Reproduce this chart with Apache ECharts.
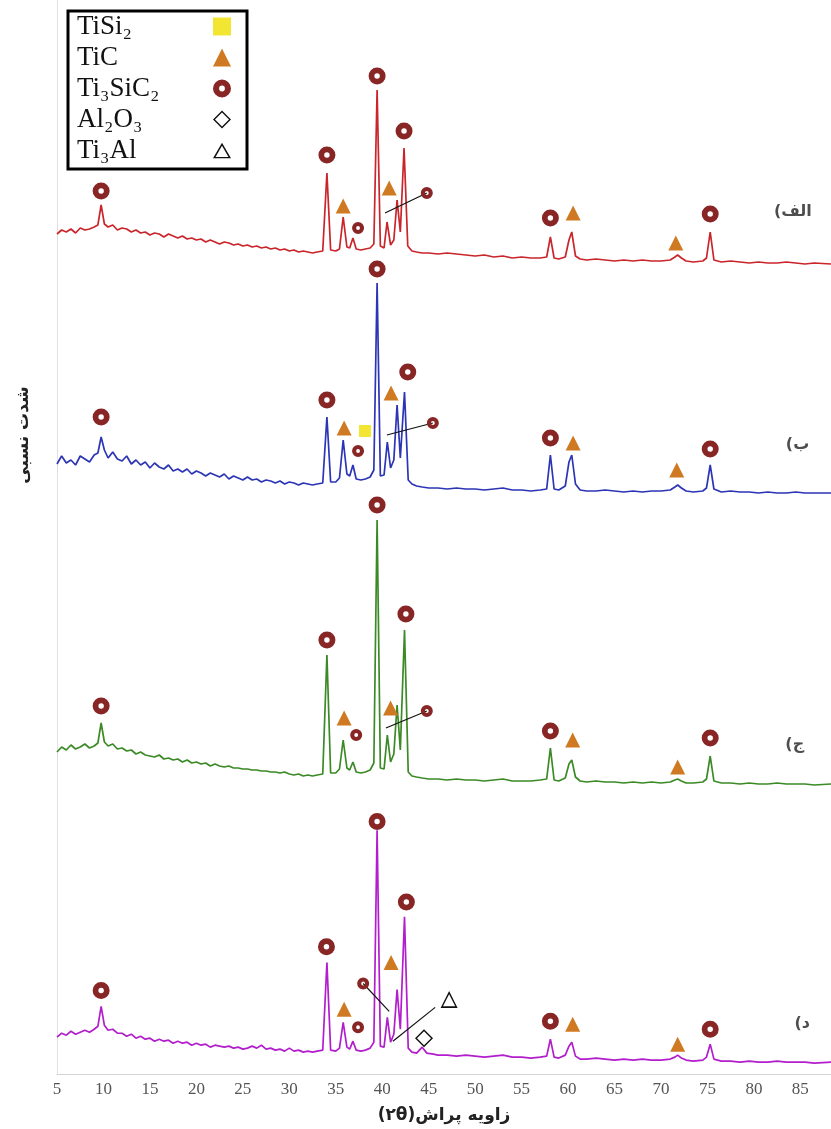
<!DOCTYPE html>
<html><head><meta charset="utf-8">
<script src="https://cdn.jsdelivr.net/npm/echarts@6/dist/echarts.min.js"></script>
<style>html,body{margin:0;padding:0;background:#fff}#c{width:831px;height:1129px}</style>
</head><body><div id="c"></div>
<script>
// ---------- DATA ----------
const xTicks = [5,10,15,20,25,30,35,40,45,50,55,60,65,70,75,80,85];
const traceLabels = ['الف)', 'ب)', 'ج)', 'د)'];
const xTitle = 'زاویه پراش(۲θ)';
const yTitle = 'شدت نسبی';
const phaseNames = ['TiSi₂', 'TiC', 'Ti₃SiC₂', 'Al₂O₃', 'Ti₃Al'];

// intensity traces [2θ, relative intensity]
const traceA = [[5,36],[5.5,40],[6,38],[6.5,41],[7,37],[7.5,42],[8,40],[8.5,41],[9,43],[9.4,45],[9.75,65],[10.1,46],[10.5,43],[11,45],[11.5,40],[12,42],[12.5,41],[13,38],[13.5,40],[14,37],[14.5,38],[15,35],[15.5,37],[16,36],[16.5,33],[17,36],[17.5,34],[18,32],[18.5,34],[19,31],[19.5,32],[20,30],[20.5,31],[21,28],[21.5,30],[22,28],[22.5,26],[23,28],[23.5,27],[24,25],[24.5,26],[25,24],[25.5,25],[26,23],[26.5,24],[27,22],[27.5,23],[28,21],[28.5,22],[29,20],[29.5,21],[30,19],[30.5,20],[31,18],[31.5,19],[32,18],[32.5,17],[33,18],[33.6,19],[34.05,97],[34.45,20],[35,19],[35.4,21],[35.8,53],[36.2,23],[36.5,22],[36.85,32],[37.2,21],[37.7,20],[38.2,21],[38.7,22],[39.1,26],[39.45,180],[39.8,24],[40.2,22],[40.52,48],[40.9,25],[41.25,30],[41.6,70],[41.95,38],[42.35,122],[42.75,24],[43.2,19],[43.7,18],[44.3,17],[45,17],[46,16],[47,17],[48,16],[49,15],[50,14],[51,15],[52,13],[53,14],[54,12],[55,13],[56,12],[57,12],[57.7,13],[58.1,33],[58.5,12],[59,11],[59.7,13],[60.1,30],[60.4,38],[60.8,14],[61.3,11],[62,10],[63,11],[64,10],[65,9],[66,10],[67,9],[68,10],[69,9],[70,9],[71,10],[71.5,13],[71.8,15],[72.2,12],[72.7,9],[73.5,8],[74.5,9],[74.9,12],[75.3,38],[75.7,10],[76.5,8],[77.5,9],[78.5,8],[79.5,7],[80.5,8],[81.5,7],[82.5,7],[83.5,8],[84.5,7],[85.5,6],[86.5,7],[88.3,6]];
const traceB = [[5,36],[5.5,44],[6,37],[6.5,40],[7,35],[7.5,44],[8,41],[8.5,38],[9,45],[9.4,47],[9.75,63],[10.1,50],[10.5,42],[11,48],[11.5,41],[12,39],[12.5,44],[13,36],[13.5,40],[14,35],[14.5,38],[15,32],[15.5,37],[16,33],[16.5,31],[17,35],[17.5,29],[18,31],[18.5,28],[19,31],[19.5,26],[20,29],[20.5,27],[21,24],[21.5,27],[22,25],[22.5,23],[23,26],[23.5,21],[24,24],[24.5,22],[25,20],[25.5,23],[26,20],[26.5,21],[27,18],[27.5,20],[28,19],[28.5,17],[29,19],[29.5,16],[30,18],[30.5,17],[31,15],[31.5,17],[32,16],[32.5,15],[33,16],[33.6,17],[34.05,83],[34.45,18],[35,18],[35.4,22],[35.8,60],[36.2,26],[36.5,24],[36.85,35],[37.2,21],[37.7,20],[38.2,21],[38.7,23],[39.1,30],[39.45,217],[39.8,24],[40.2,25],[40.55,58],[40.9,32],[41.25,40],[41.6,95],[41.95,42],[42.4,108],[42.8,20],[43.2,16],[43.7,14],[44.3,13],[45,12],[46,12],[47,11],[48,12],[49,11],[50,11],[51,10],[52,11],[53,12],[54,10],[55,10],[56,9],[57,10],[57.7,11],[58.1,45],[58.5,11],[59,10],[59.7,14],[60.1,38],[60.4,45],[60.8,16],[61.3,10],[62,9],[63,9],[64,10],[65,9],[66,8],[67,9],[68,8],[69,9],[70,9],[71,10],[71.5,13],[71.8,15],[72.2,12],[72.7,9],[73.5,8],[74.5,9],[74.9,12],[75.3,35],[75.7,11],[76.5,8],[77.5,9],[78.5,8],[79.5,8],[80.5,7],[81.5,8],[82.5,7],[83.5,7],[84.5,8],[85.5,7],[86.5,7],[88.3,7]];
const traceC = [[5,38],[5.5,43],[6,40],[6.5,45],[7,41],[7.5,43],[8,46],[8.5,42],[9,44],[9.4,47],[9.75,67],[10.1,48],[10.5,44],[11,46],[11.5,41],[12,42],[12.5,39],[13,40],[13.5,36],[14,38],[14.5,35],[15,34],[15.5,33],[16,35],[16.5,31],[17,32],[17.5,30],[18,31],[18.5,28],[19,30],[19.5,27],[20,28],[20.5,26],[21,27],[21.5,24],[22,26],[22.5,24],[23,23],[23.5,24],[24,22],[24.5,22],[25,21],[25.5,21],[26,20],[26.5,20],[27,19],[27.5,19],[28,18],[28.5,18],[29,17],[29.5,18],[30,16],[30.5,15],[31,16],[31.5,14],[32,15],[32.5,14],[33,15],[33.6,16],[34.05,135],[34.45,17],[35,17],[35.4,21],[35.8,50],[36.2,22],[36.5,20],[36.85,28],[37.2,18],[37.7,17],[38.2,18],[38.7,20],[39.1,27],[39.45,270],[39.8,22],[40.2,21],[40.55,55],[40.9,28],[41.25,36],[41.6,85],[41.95,40],[42.4,160],[42.8,18],[43.2,14],[43.7,13],[44.3,12],[45,11],[46,11],[47,10],[48,11],[49,10],[50,10],[51,9],[52,10],[53,11],[54,9],[55,9],[56,9],[57,10],[57.7,11],[58.1,42],[58.5,10],[59,9],[59.7,12],[60.1,26],[60.4,30],[60.8,13],[61.3,9],[62,8],[63,9],[64,8],[65,8],[66,7],[67,8],[68,7],[69,8],[70,7],[71,8],[71.5,10],[71.8,11],[72.2,9],[72.7,7],[73.5,7],[74.5,8],[74.9,11],[75.3,34],[75.7,9],[76.5,7],[77.5,7],[78.5,6],[79.5,7],[80.5,6],[81.5,6],[82.5,7],[83.5,6],[84.5,6],[85.5,6],[86.5,5],[88.3,6]];
const traceD = [[5,37],[5.5,41],[6,39],[6.5,43],[7,40],[7.5,42],[8,44],[8.5,42],[9,45],[9.4,48],[9.75,68],[10.1,49],[10.5,44],[11,45],[11.5,41],[12,41],[12.5,38],[13,40],[13.5,36],[14,38],[14.5,35],[15,36],[15.5,33],[16,35],[16.5,33],[17,34],[17.5,31],[18,33],[18.5,31],[19,32],[19.5,29],[20,31],[20.5,29],[21,30],[21.5,27],[22,29],[22.5,28],[23,27],[23.5,28],[24,26],[24.5,27],[25,25],[25.5,26],[26,28],[26.5,26],[27,29],[27.5,25],[28,26],[28.5,24],[29,25],[29.5,23],[30,26],[30.5,23],[31,24],[31.5,22],[32,23],[32.5,22],[33,23],[33.6,24],[34.05,112],[34.45,24],[35,23],[35.4,26],[35.8,52],[36.2,27],[36.5,25],[36.85,33],[37.2,24],[37.7,23],[38.2,24],[38.7,26],[39.1,32],[39.45,245],[39.8,28],[40.2,27],[40.55,57],[40.9,32],[41.25,40],[41.6,85],[41.95,45],[42.4,158],[42.8,26],[43.2,22],[43.7,21],[44.3,27],[44.8,21],[45.5,20],[46,19],[47,19],[48,18],[49,19],[50,18],[51,17],[52,18],[53,19],[54,17],[55,17],[56,16],[57,17],[57.7,18],[58.1,35],[58.5,17],[59,16],[59.7,19],[60.1,28],[60.4,32],[60.8,18],[61.3,15],[62,15],[63,16],[64,15],[65,14],[66,15],[67,14],[68,15],[69,14],[70,14],[71,15],[71.5,17],[71.8,19],[72.2,16],[72.7,14],[73.5,13],[74.5,14],[74.9,17],[75.3,30],[75.7,15],[76.5,13],[77.5,13],[78.5,12],[79.5,13],[80.5,12],[81.5,12],[82.5,13],[83.5,12],[84.5,12],[85.5,12],[86.5,11],[88.3,12]];

// phase marks [2θ, intensity]
const ringsA = [[9.75,79],[34.05,115],[39.45,194],[42.35,139],[58.1,52],[75.3,56]];
const ringsSmallA = [[37.4,42],[44.8,77]];
const ticA = [[35.8,64],[40.75,82],[60.55,57],[71.6,27]];
const leadersA = [[[40.3,57],[44.8,77]]];

const ringsB = [[9.75,83],[34.05,100],[39.45,231],[42.75,128],[58.1,62],[75.3,51]];
const ringsSmallB = [[37.4,49],[45.45,77]];
const ticB = [[35.9,72],[40.95,107],[60.55,57],[71.7,30]];
const tisi2B = [[38.15,69]];
const leadersB = [[[40.5,65],[45.45,77]]];

const ringsC = [[9.75,84],[34.05,150],[39.45,285],[42.55,176],[58.1,59],[75.3,52]];
const ringsSmallC = [[37.2,55],[44.8,79]];
const ticC = [[35.9,72],[40.9,82],[60.5,50],[71.8,23]];
const leadersC = [[[40.4,62],[44.8,79]]];

const ringsD = [[9.75,84],[34.0,128],[39.45,254],[42.6,173],[58.1,53],[75.3,45]];
const ringsSmallD = [[37.4,47],[37.95,91]];
const ticD = [[35.9,65],[40.95,112],[60.5,50],[71.8,30]];
const al2o3D = [[44.5,36]];
const ti3alD = [[47.2,75]];
const leadersD = [[[37.95,91],[40.75,63]],[[41.15,33],[45.7,67]]];

const labelPos = [[84.2,58],[84.7,55],[84.4,45],[85.2,50]];

// ---------- STYLE / LAYOUT ----------
const panelBottom = [270, 500, 790, 1080];
const colors = ['#c9252b', '#2b35b5', '#3b8a26', '#b21dcc'];
const RING = 'path://M50,0A50,50,0,1,1,50,100A50,50,0,1,1,50,0ZM50,34A16,16,0,1,0,50,66A16,16,0,1,0,50,34Z';
const HTRI = 'path://M50,0L100,87L0,87ZM50,17L14,79L86,79Z';
const HDIA = 'path://M50,0L100,50L50,100L0,50ZM50,11L11,50L50,89L89,50Z';
const RTL = s => '\u202B' + s + '\u202C';

const panels = [
  {trace: traceA, rings: ringsA, small: ringsSmallA, tic: ticA, leaders: leadersA},
  {trace: traceB, rings: ringsB, small: ringsSmallB, tic: ticB, leaders: leadersB, tisi2: tisi2B},
  {trace: traceC, rings: ringsC, small: ringsSmallC, tic: ticC, leaders: leadersC},
  {trace: traceD, rings: ringsD, small: ringsSmallD, tic: ticD, leaders: leadersD, al2o3: al2o3D, ti3al: ti3alD}
];

const grid = [], xAxis = [], yAxis = [], series = [];
const sc = (name, data, symbol, size, color, ax) => Object.assign({type: 'scatter', name, data, symbol,
  symbolSize: size, itemStyle: {color, opacity: 1}, emphasis: {disabled: true}, z: 5, animation: false}, ax);
panels.forEach((p, i) => {
  grid.push({left: 57, right: 0, top: 0, height: panelBottom[i]});
  const last = i === panels.length - 1;
  xAxis.push({
    type: 'value', gridIndex: i, min: 5, max: 88.3, interval: 5, show: last,
    axisLine: {show: true, lineStyle: {color: '#d4d4d4', width: 1}},
    axisTick: {show: false}, splitLine: {show: false},
    axisLabel: {show: last, showMaxLabel: false, margin: 7, color: '#555', fontSize: 17,
      fontFamily: 'Liberation Serif', formatter: v => xTicks.includes(v) ? String(v) : ''},
    name: last ? RTL(xTitle) : '', nameLocation: 'middle', nameGap: 33,
    nameTextStyle: {fontSize: 17, fontWeight: 'bold', fontFamily: 'DejaVu Sans', color: '#222'}
  });
  yAxis.push({
    type: 'value', gridIndex: i, min: 0, max: panelBottom[i], show: last,
    axisLine: {show: true, lineStyle: {color: '#e0e0e0', width: 1}},
    axisTick: {show: false}, axisLabel: {show: false}, splitLine: {show: false}
  });
  const ax = {xAxisIndex: i, yAxisIndex: i};
  series.push(Object.assign({type: 'line', data: p.trace, showSymbol: false, symbol: 'none',
    lineStyle: {color: colors[i], width: 1.7}, z: 2, silent: true, animation: false}, ax));
  p.leaders.forEach(seg => series.push(Object.assign({type: 'line', data: seg, symbol: 'none',
    lineStyle: {color: '#111', width: 1.2}, z: 3, silent: true, animation: false}, ax)));
  if (p.tisi2) series.push(sc(phaseNames[0], p.tisi2, 'rect', 12, '#f2e633', ax));
  series.push(sc(phaseNames[1], p.tic, 'triangle', 15, '#cf7a22', ax));
  series.push(sc(phaseNames[2], p.rings, RING, 17, '#882626', ax));
  series.push(sc(phaseNames[2], p.small, RING, 12, '#882626', ax));
  if (p.al2o3) series.push(sc(phaseNames[3], p.al2o3, HDIA, 18, '#111', ax));
  if (p.ti3al) series.push(sc(phaseNames[4], p.ti3al, HTRI, 17, '#111', ax));
  series.push(Object.assign({type: 'scatter', data: [labelPos[i]], symbolSize: 0, silent: true,
    label: {show: true, position: 'inside', formatter: RTL(traceLabels[i]), color: '#222',
      fontSize: 16, fontWeight: 'bold', fontFamily: 'DejaVu Sans'}, z: 6, animation: false}, ax));
});

const chart = echarts.init(document.getElementById('c'));
chart.setOption({
  animation: false,
  backgroundColor: '#ffffff',
  grid, xAxis, yAxis, series,
  legend: {
    data: phaseNames, orient: 'vertical', left: 68, top: 11, align: 'right',
    itemWidth: 18, itemHeight: 18, itemGap: 4, selectedMode: false,
    padding: [2, 16, 5, 9],
    backgroundColor: '#fff', borderColor: '#000', borderWidth: 3,
    formatter: n => '{t|' + n + '}',
    textStyle: {rich: {t: {width: 131, align: 'left', fontSize: 27, lineHeight: 28, fontFamily: 'Liberation Serif', color: '#111'}}}
  },
  graphic: [{
    type: 'text', x: 24, y: 435, rotation: Math.PI / 2,
    style: {text: yTitle, fontSize: 17, fontWeight: 'bold', fontFamily: 'DejaVu Sans', fill: '#222',
      textAlign: 'center', textVerticalAlign: 'middle'}
  }]
});
</script></body></html>
